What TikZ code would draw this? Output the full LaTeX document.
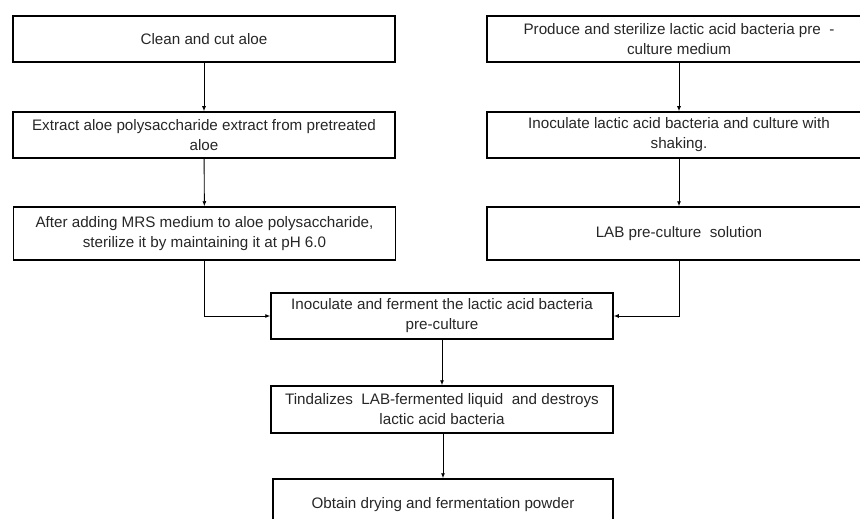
\documentclass[tikz,border=0pt]{standalone}
\usepackage{fontspec}
\setmainfont{Liberation Sans}
\usetikzlibrary{arrows.meta, positioning}

\begin{document}
\begin{tikzpicture}[x=1pt, y=-1pt,
    box/.style={draw=black, line width=1.5pt, rectangle, align=center,
      inner sep=0pt, text=black!85, font=\fontsize{15.2}{20}\selectfont},
    arr/.style={-{Latex[length=5pt, width=4pt]}, line width=0.9pt}]
  \useasboundingbox (0,0) rectangle (860,519);
  \clip (0,0) rectangle (860,519);
  % aloe branch
  \node[box, minimum width=382pt, minimum height=46pt] (clean) at (204,39) {Clean and cut aloe};
  \node[box, minimum width=382pt, minimum height=46pt] (extract) at (204,135)
    {Extract aloe polysaccharide extract from pretreated\\aloe};
  \node[box, minimum width=382pt, minimum height=53pt] (mrs) at (204.5,233.5)
    {After adding MRS medium to aloe polysaccharide,\\sterilize it by maintaining it at pH 6.0};
  % bacteria branch
  \node[box, minimum width=384pt, minimum height=46pt] (produce) at (679,39)
    {Produce and sterilize lactic acid bacteria pre\ \ -\\culture medium};
  \node[box, minimum width=384pt, minimum height=46pt] (inoc) at (679,135)
    {Inoculate lactic acid bacteria and culture with\\shaking.};
  \node[box, minimum width=384pt, minimum height=53pt] (lab) at (679,233.5)
    {LAB pre-culture\ \ solution};
  % joint steps
  \node[box, minimum width=342pt, minimum height=46pt] (ferment) at (442,316)
    {Inoculate and ferment the lactic acid bacteria\\pre-culture};
  \node[box, minimum width=342pt, minimum height=47pt] (tindal) at (442,409.5)
    {Tindalizes\ \ LAB-fermented liquid\ \ and destroys\\lactic acid bacteria};
  \node[box, minimum width=340pt, minimum height=52pt] (powder) at (443,505)
    {Obtain drying and fermentation powder};
  \draw[arr] (clean) -- (extract);
  \draw[arr] (extract) -- (mrs);
  \draw[arr] (produce) -- (inoc);
  \draw[arr] (inoc) -- (lab);
  \draw[arr] (mrs.south) |- (ferment.west);
  \draw[arr] (lab.south) |- (ferment.east);
  \draw[arr] (ferment) -- (tindal);
  \draw[arr] (tindal.south -| powder.north) -- (powder);
\end{tikzpicture}
\end{document}
